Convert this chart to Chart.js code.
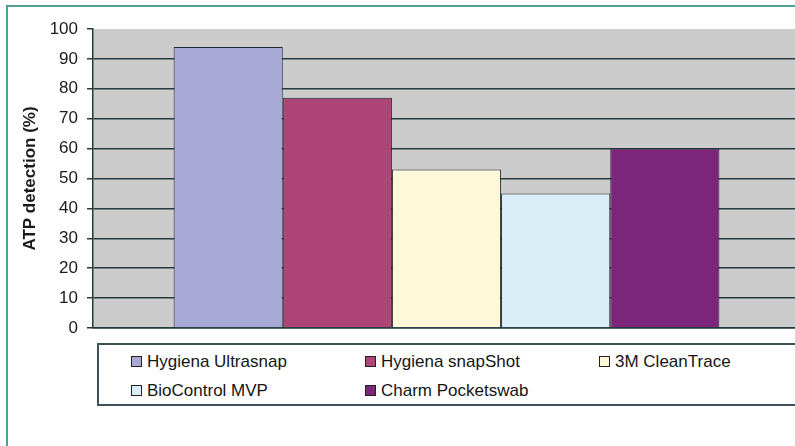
<!DOCTYPE html>
<html>
<head>
<meta charset="utf-8">
<script src="https://cdn.jsdelivr.net/npm/chart.js@4/dist/chart.umd.min.js"></script>
<style>
  html, body { margin: 0; padding: 0; background: #fff; overflow: hidden; }
  body { width: 795px; height: 446px; position: relative; }
  #frame {
    position: absolute; left: 6px; top: 5px; width: 800px; height: 450px;
    border-top: 2px solid #4f9f92; border-left: 2px solid #4f9f92;
  }
  #wrap { position: absolute; left: 0; top: 0; width: 800px; height: 446px; }
  #legend {
    position: absolute; left: 97px; top: 343px; width: 720px; height: 58px;
    border: 2px solid #3d5258; background: #fff;
    display: grid; grid-template-columns: 234px 234px 234px; grid-auto-rows: 29px;
    padding: 2px 0 0 32px; box-sizing: border-box; height: 63px;
    font: 17px "Liberation Sans", Arial, sans-serif; color: #151515;
  }
  .item { display: flex; align-items: center; white-space: nowrap; }
  .box { width: 9px; height: 9px; border: 1px solid #222; margin-right: 5px; flex: none; }
</style>
</head>
<body>
<div id="frame"></div>
<div id="wrap"><canvas id="c" width="800" height="446"></canvas></div>
<div id="legend"></div>
<script>
// series names and their detection values (%)
const seriesNames = ['Hygiena Ultrasnap', 'Hygiena snapShot', '3M CleanTrace', 'BioControl MVP', 'Charm Pocketswab'];
const seriesValues = [94, 77, 53, 45, 60];
const seriesColors = ['#a9a9d6', '#ad4577', '#fff8d8', '#d9eef6', '#7b267b'];
const yTicks = [0, 10, 20, 30, 40, 50, 60, 70, 80, 90, 100];

const gridDark = '#233a3e';

const plotBg = {
    id: 'plotBg',
    beforeDraw(chart) {
        const { ctx, chartArea: a } = chart;
        ctx.save();
        ctx.fillStyle = '#cccccc';
        ctx.fillRect(a.left, a.top, a.right - a.left, a.bottom - a.top);
        ctx.restore();
    }
};

const chart = new Chart(document.getElementById('c'), {
    type: 'bar',
    data: {
        labels: [''],
        datasets: seriesNames.map((name, i) => ({
            label: name,
            data: [seriesValues[i]],
            backgroundColor: seriesColors[i],
            borderColor: '#1e2a30',
            borderWidth: 1,
        }))
    },
    options: {
        responsive: false,
        animation: false,
        layout: { padding: { top: 29, left: 0, right: 0, bottom: 118 } },
        datasets: { bar: { categoryPercentage: 0.772, barPercentage: 1 } },
        plugins: { legend: { display: false }, tooltip: { enabled: false } },
        scales: {
            x: {
                afterFit: s => { s.height = 0; },
                ticks: { display: false },
                grid: { display: false },
                border: { color: gridDark, width: 1.5 }
            },
            y: {
                min: 0,
                max: 100,
                afterFit: s => { s.width = 93; },
                afterBuildTicks: s => { s.ticks = yTicks.map(v => ({ value: v })); },
                ticks: {
                    padding: 9,
                    color: '#1a1a1a',
                    font: { size: 17, family: '"Liberation Sans", Arial' }
                },
                grid: {
                    color: c => (c.tick && c.tick.value === 100) ? 'rgba(0,0,0,0)' : gridDark,
                    lineWidth: 1.5,
                    tickLength: 6,
                    tickColor: gridDark,
                    tickWidth: 1.5
                },
                border: { color: gridDark, width: 1.5 },
                title: {
                    display: true,
                    text: 'ATP detection (%)',
                    color: '#1a1a1a',
                    padding: { top: 20, bottom: 0 },
                    font: { size: 17, weight: 'bold', family: '"Liberation Sans", Arial' }
                }
            }
        }
    },
    plugins: [plotBg]
});

// legend laid out in Excel-style columns
const legend = document.getElementById('legend');
chart.data.datasets.forEach(ds => {
    const item = document.createElement('div');
    item.className = 'item';
    const box = document.createElement('span');
    box.className = 'box';
    box.style.background = ds.backgroundColor;
    item.appendChild(box);
    item.appendChild(document.createTextNode(ds.label));
    legend.appendChild(item);
});
</script>
</body>
</html>
